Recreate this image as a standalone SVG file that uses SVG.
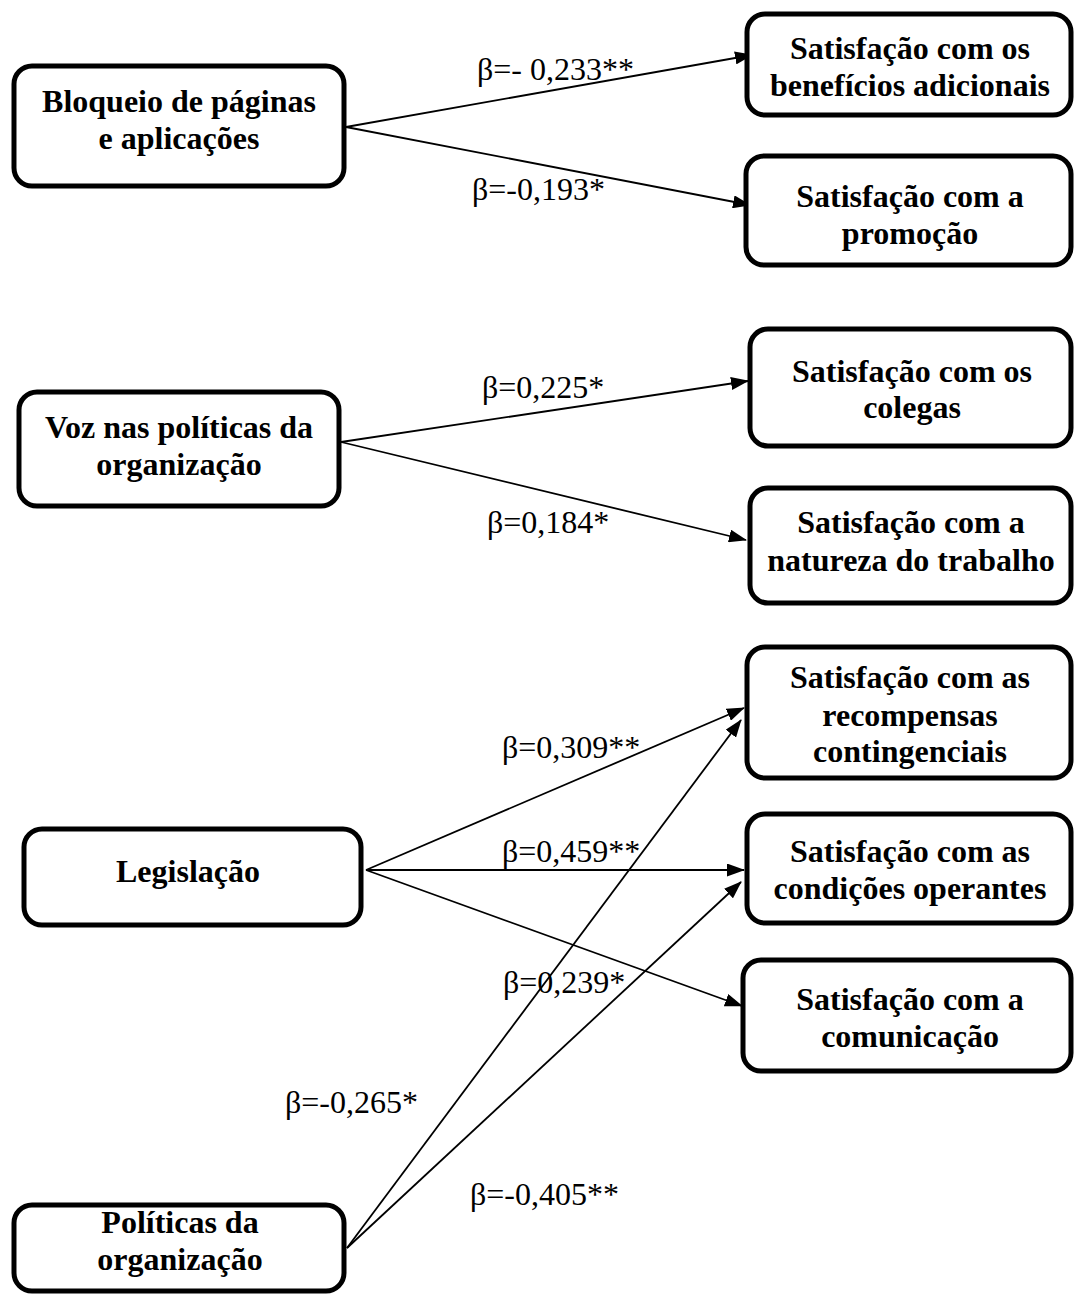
<svg xmlns="http://www.w3.org/2000/svg" width="1075" height="1294" viewBox="0 0 1075 1294">
<style>
.box{fill:#fff;stroke:#000;stroke-width:5}
.nt{font-family:"Liberation Serif","Times New Roman",serif;font-weight:bold;font-size:32px;text-anchor:middle;fill:#000}
.lb{font-family:"Liberation Serif","Times New Roman",serif;font-size:32px;fill:#000}
.cn{stroke:#000;stroke-width:1.8;fill:none;marker-end:url(#arr)}
</style>
<defs>
<marker id="arr" markerWidth="18" markerHeight="13" refX="17" refY="6.5" orient="auto" markerUnits="userSpaceOnUse">
<path d="M0,0 L18,6.5 L0,13 Z" fill="#000"/>
</marker>
</defs>
<rect width="1075" height="1294" fill="#fff"/>
<g id="connectors">
<line class="cn" x1="346" y1="127" x2="752" y2="55"/>
<line class="cn" x1="346" y1="127" x2="750" y2="205"/>
<line class="cn" x1="341" y1="442" x2="748" y2="381"/>
<line class="cn" x1="341" y1="442" x2="746" y2="540"/>
<line class="cn" x1="366" y1="870" x2="744" y2="708"/>
<line class="cn" x1="366" y1="870" x2="744" y2="870"/>
<line class="cn" x1="366" y1="870" x2="742" y2="1006"/>
<line class="cn" x1="347" y1="1248" x2="741" y2="720"/>
<line class="cn" x1="347" y1="1248" x2="741" y2="882"/>
</g>
<g id="labels">
<text class="lb" x="477" y="80">β=- 0,233**</text>
<text class="lb" x="472" y="200">β=-0,193*</text>
<text class="lb" x="482" y="398">β=0,225*</text>
<text class="lb" x="487" y="533">β=0,184*</text>
<text class="lb" x="502" y="758">β=0,309**</text>
<text class="lb" x="502" y="862">β=0,459**</text>
<text class="lb" x="503" y="993">β=0,239*</text>
<text class="lb" x="285" y="1113">β=-0,265*</text>
<text class="lb" x="470" y="1205">β=-0,405**</text>
</g>
<g id="n-bloqueio">
<rect class="box" x="14" y="66" width="330" height="120" rx="18"/>
<text class="nt" x="179" y="112">Bloqueio de páginas</text>
<text class="nt" x="179" y="149">e aplicações</text>
</g>
<g id="n-voz">
<rect class="box" x="19" y="392" width="320" height="114" rx="18"/>
<text class="nt" x="179" y="438">Voz nas políticas da</text>
<text class="nt" x="179" y="475">organização</text>
</g>
<g id="n-legislacao">
<rect class="box" x="24" y="829" width="337" height="96" rx="18"/>
<text class="nt" x="188" y="882">Legislação</text>
</g>
<g id="n-politicas">
<rect class="box" x="14" y="1205" width="330" height="86" rx="18"/>
<text class="nt" x="180" y="1233">Políticas da</text>
<text class="nt" x="180" y="1270">organização</text>
</g>
<g id="n-beneficios">
<rect class="box" x="747" y="14" width="324" height="101" rx="18"/>
<text class="nt" x="910" y="59">Satisfação com os</text>
<text class="nt" x="910" y="96">benefícios adicionais</text>
</g>
<g id="n-promocao">
<rect class="box" x="746" y="156" width="325" height="109" rx="18"/>
<text class="nt" x="910" y="207">Satisfação com a</text>
<text class="nt" x="910" y="244">promoção</text>
</g>
<g id="n-colegas">
<rect class="box" x="750" y="329" width="321" height="117" rx="18"/>
<text class="nt" x="912" y="382">Satisfação com os</text>
<text class="nt" x="912" y="418">colegas</text>
</g>
<g id="n-natureza">
<rect class="box" x="750" y="488" width="321" height="115" rx="18"/>
<text class="nt" x="911" y="533">Satisfação com a</text>
<text class="nt" x="911" y="571">natureza do trabalho</text>
</g>
<g id="n-recompensas">
<rect class="box" x="747" y="647" width="324" height="131" rx="18"/>
<text class="nt" x="910" y="688">Satisfação com as</text>
<text class="nt" x="910" y="726">recompensas</text>
<text class="nt" x="910" y="762">contingenciais</text>
</g>
<g id="n-condicoes">
<rect class="box" x="747" y="814" width="324" height="109" rx="18"/>
<text class="nt" x="910" y="862">Satisfação com as</text>
<text class="nt" x="910" y="899">condições operantes</text>
</g>
<g id="n-comunicacao">
<rect class="box" x="743" y="960" width="328" height="111" rx="18"/>
<text class="nt" x="910" y="1010">Satisfação com a</text>
<text class="nt" x="910" y="1047">comunicação</text>
</g>
</svg>
